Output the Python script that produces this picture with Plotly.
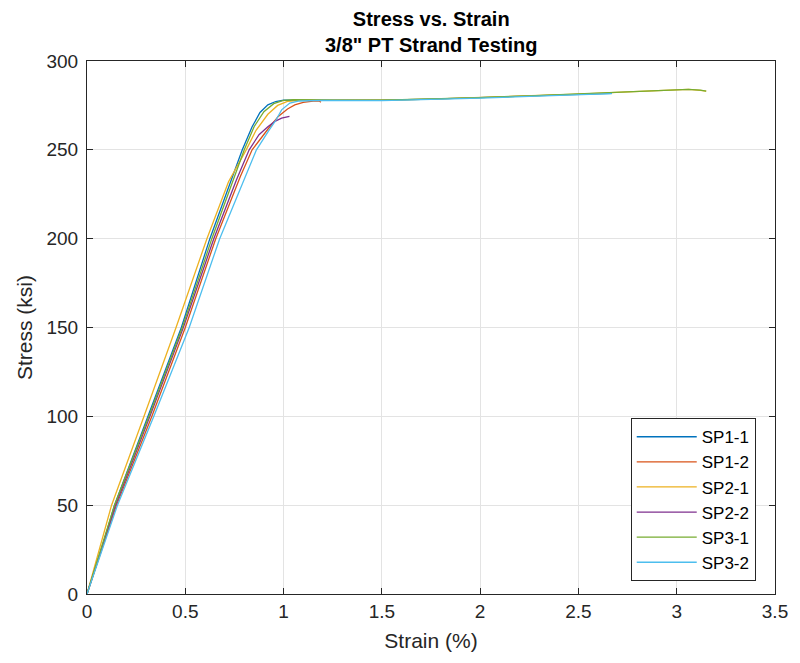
import plotly.graph_objects as go

names = ["SP1-1", "SP1-2", "SP2-1", "SP2-2", "SP3-1", "SP3-2"]
colors = ["#0072BD", "#D95319", "#EDB120", "#7E2F8E", "#77AC30", "#4DBEEE"]

sp11_strain = [0, 0.07, 0.14, 0.31, 0.48, 0.625, 0.73, 0.79, 0.84, 0.88, 0.92, 0.96, 1.0, 1.1, 1.25, 1.5, 1.75, 2.0, 2.25, 2.5, 2.67]
sp11_stress = [0, 24, 50, 100, 150, 200, 232, 250, 263, 271, 275.3, 277.2, 278, 278, 277.8, 277.9, 278.5, 279.3, 280.3, 281.3, 281.8]

sp12_strain = [0, 0.15, 0.33, 0.50, 0.655, 0.78, 0.84, 0.88, 0.923, 0.973, 1.02, 1.057, 1.1, 1.15, 1.18, 1.19]
sp12_stress = [0, 50, 100, 150, 200, 235, 250, 256, 262, 268.8, 273, 275.3, 276.7, 277.4, 277.6, 276.8]

sp21_strain = [0, 0.125, 0.29, 0.453, 0.61, 0.72, 0.81, 0.86, 0.92, 0.97, 1.02, 1.1, 1.25, 1.5, 1.75, 2.0, 2.25, 2.5, 2.75, 3.0, 3.06, 3.12, 3.15]
sp21_stress = [0, 50, 100, 150, 200, 232, 250, 261, 270, 275, 277.3, 278, 277.9, 277.9, 278.5, 279.4, 280.4, 281.4, 282.6, 283.6, 284, 283.5, 283]

sp22_strain = [0, 0.145, 0.32, 0.49, 0.645, 0.76, 0.825, 0.875, 0.92, 0.956, 0.99, 1.03]
sp22_stress = [0, 50, 100, 150, 200, 233, 250, 258.5, 263, 266, 267.8, 268.8]

sp31_strain = [0, 0.14, 0.315, 0.485, 0.635, 0.74, 0.80, 0.85, 0.90, 0.95, 1.0, 1.05, 1.25, 1.5, 1.75, 2.0, 2.25, 2.5, 2.75, 3.0, 3.06, 3.12, 3.15]
sp31_stress = [0, 50, 100, 150, 200, 232, 250, 263, 271.5, 276, 277.8, 278.2, 277.9, 278, 278.6, 279.4, 280.4, 281.4, 282.7, 283.7, 284, 283.6, 283.1]

sp32_strain = [0, 0.155, 0.34, 0.52, 0.675, 0.80, 0.862, 0.923, 0.96, 0.99, 1.032, 1.08, 1.2, 1.5, 1.75, 2.0, 2.25, 2.5, 2.67]
sp32_stress = [0, 50, 100, 150, 200, 233, 250, 260.5, 266.5, 272.5, 276.3, 277.5, 277.8, 277.7, 278.3, 279.1, 280.1, 281.1, 281.6]

series = [
    (sp11_strain, sp11_stress),
    (sp12_strain, sp12_stress),
    (sp21_strain, sp21_stress),
    (sp22_strain, sp22_stress),
    (sp31_strain, sp31_stress),
    (sp32_strain, sp32_stress),
]

x_ticks = [0, 0.5, 1, 1.5, 2, 2.5, 3, 3.5]
x_labels = ["0", "0.5", "1", "1.5", "2", "2.5", "3", "3.5"]
y_ticks = [0, 50, 100, 150, 200, 250, 300]
y_labels = ["0", "50", "100", "150", "200", "250", "300"]

title_text = "<b>Stress vs. Strain</b><br><b>3/8\" PT Strand Testing</b>"

FONT = "Liberation Sans, Arial, sans-serif"
INK = "#262626"

fig = go.Figure()
for name, color, (xs, ys) in zip(names, colors, series):
    fig.add_trace(go.Scatter(x=xs, y=ys, mode="lines", name=name,
                             line=dict(color=color, width=1.3)))

axis_common = dict(
    showline=True, linecolor=INK, linewidth=1, mirror="ticks",
    ticks="inside", ticklen=6, tickcolor=INK, tickwidth=1,
    showgrid=True, gridcolor="#e3e3e3", gridwidth=1,
    zeroline=False,
    tickfont=dict(family=FONT, size=19, color=INK),
)

fig.update_layout(
    width=800, height=663,
    margin=dict(l=87, r=19, t=61, b=69),
    paper_bgcolor="white", plot_bgcolor="white",
    font=dict(family=FONT, color=INK),
    xaxis=dict(range=[0, 3.5], tickvals=x_ticks, ticktext=x_labels,
               title=dict(text="Strain (%)", font=dict(family=FONT, size=21, color=INK), standoff=12),
               **axis_common),
    yaxis=dict(range=[0, 300], tickvals=y_ticks, ticktext=y_labels,
               title=dict(text="Stress (ksi)", font=dict(family=FONT, size=21, color=INK), standoff=8),
               ticklabelstandoff=4,
               **axis_common),
    legend=dict(x=0.972, xanchor="right", y=0.024, yanchor="bottom",
                bgcolor="white", bordercolor=INK, borderwidth=1,
                font=dict(family=FONT, size=17, color="black"),
                itemwidth=60, tracegroupgap=0),
    annotations=[dict(text=title_text, x=0.5, xref="paper", xanchor="center",
                      y=1, yref="paper", yanchor="bottom", yshift=3,
                      showarrow=False, align="center",
                      font=dict(family=FONT, size=20, color="black"))],
)

fig.write_html("out.html")
